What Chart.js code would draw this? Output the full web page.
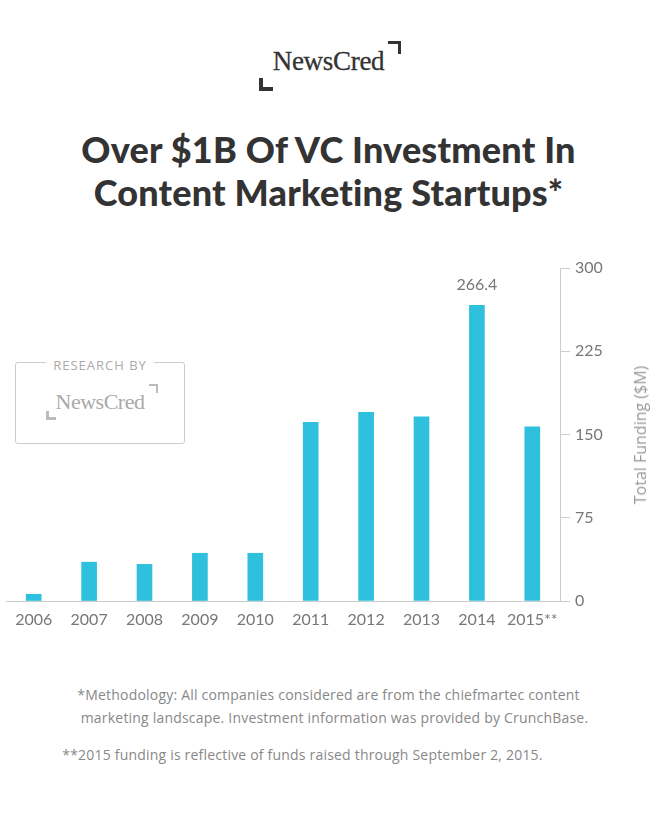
<!DOCTYPE html>
<html>
<head>
<meta charset="utf-8">
<script src="https://cdn.jsdelivr.net/npm/chart.js@4.4.1/dist/chart.umd.min.js"></script>
<style>
  html, body { margin: 0; padding: 0; background: #fff; }
  body { width: 657px; height: 826px; position: relative; overflow: hidden; font-family: Lato, "Open Sans", sans-serif; }
  .logo { position: absolute; font-family: "Liberation Serif", "DejaVu Serif", serif; color: #333; }
  .corner { position: absolute; border-color: #333; border-style: solid; border-width: 0; }
  #top-logo { left: 0; width: 657px; top: 46px; text-align: center; font-size: 27px; letter-spacing: -0.3px; -webkit-text-stroke: 0.3px #333; }
  h1 { position: absolute; left: 0; width: 657px; top: 128px; margin: 0; text-align: center;
       font-family: Lato, sans-serif; font-weight: 900; font-size: 36px; line-height: 43px; color: #333; letter-spacing: 0.2px; }
  #badge { position: absolute; left: 15px; top: 362px; width: 168px; height: 80px; border: 1px solid #ccc; border-radius: 3px; }
  #badge .cap { position: absolute; left: 0; width: 168px; top: -9px; text-align: center; }
  #badge .cap span { background: #fff; padding: 0 7px; font-size: 13px; letter-spacing: 1px; color: #aaa; font-family: "Open Sans", sans-serif; }
  #chart-wrap { position: absolute; left: 0; top: 240px; width: 657px; height: 400px; }
  #ytitle { position: absolute; left: 640px; top: 435px; transform: translate(-50%, -50%) rotate(-90deg);
            white-space: nowrap; font-size: 16px; color: #999; font-family: "Open Sans", sans-serif; }
  .note { position: absolute; left: 0; width: 657px; text-align: center; font-size: 14px; letter-spacing: 0.2px; color: #888; font-family: "Open Sans", sans-serif; box-sizing: border-box; }
</style>
</head>
<body>
<div class="logo" id="top-logo">NewsCred</div>
<div class="corner" style="left:388px;top:41px;width:10px;height:10px;border-top-width:3px;border-right-width:3px;"></div>
<div class="corner" style="left:259px;top:78px;width:10px;height:9px;border-left-width:4px;border-bottom-width:4px;"></div>

<h1>Over $1B Of VC Investment In<br>Content Marketing Startups*</h1>

<div id="badge">
  <div class="cap"><span>RESEARCH BY</span></div>
  <div class="logo" style="left:0;width:168px;top:26px;text-align:center;font-size:22px;color:#aaa;letter-spacing:-0.5px;">NewsCred</div>
  <div class="corner" style="border-color:#bbb;left:133px;top:21px;width:7px;height:7px;border-top-width:2px;border-right-width:2px;"></div>
  <div class="corner" style="border-color:#bbb;left:30px;top:48px;width:7px;height:6px;border-left-width:3px;border-bottom-width:3px;"></div>
</div>

<div id="chart-wrap"><canvas id="chart"></canvas></div>
<div id="ytitle">Total Funding ($M)</div>

<div class="note" style="top:685px;">*Methodology: All companies considered are from the chiefmartec content</div>
<div class="note" style="top:708px;padding-left:12px;">marketing landscape. Investment information was provided by CrunchBase.</div>
<div class="note" style="top:745px;padding-right:52px;">**2015 funding is reflective of funds raised through September 2, 2015.</div>

<script>
const years = ['2006', '2007', '2008', '2009', '2010', '2011', '2012', '2013', '2014', '2015**'];
const funding = [6, 35, 33, 43, 43, 161, 170, 166, 266.4, 157];
const labelled = ['2014'];
const yTicks = [0, 75, 150, 225, 300];

const valueLabel = {
  id: 'valueLabel',
  afterDatasetsDraw(chart) {
    const ctx = chart.ctx;
    const meta = chart.getDatasetMeta(0);
    ctx.save();
    ctx.font = '16px Lato, "Open Sans", sans-serif';
    ctx.fillStyle = '#777';
    ctx.textAlign = 'center';
    ctx.textBaseline = 'bottom';
    meta.data.forEach((bar, i) => {
      if (labelled.includes(years[i])) {
        ctx.fillText(String(funding[i]), bar.x, bar.y - 12);
      }
    });
    ctx.restore();
  }
};

new Chart(document.getElementById('chart'), {
  type: 'bar',
  data: {
    labels: years,
    datasets: [{
      data: funding,
      backgroundColor: '#2ec0dc',
      barThickness: 15
    }]
  },
  options: {
    responsive: true,
    maintainAspectRatio: false,
    animation: false,
    layout: { padding: { left: 6, top: 28, right: 0, bottom: 0 } },
    plugins: { legend: { display: false }, tooltip: { enabled: false } },
    scales: {
      x: {
        grid: { display: false, drawTicks: false },
        border: { display: true, color: '#ccc', width: 1 },
        ticks: {
          color: '#777',
          padding: 9,
          maxRotation: 0,
          autoSkip: false,
          font: { family: 'Lato, "Open Sans", sans-serif', size: 16 }
        },
        afterFit(scale) { scale.height = 39; }
      },
      y: {
        position: 'right',
        min: 0,
        max: 300,
        afterBuildTicks(scale) { scale.ticks = yTicks.map((v) => ({ value: v })); },
        grid: { drawOnChartArea: false, drawTicks: true, tickLength: 10, color: '#ccc' },
        border: { display: true, color: '#ccc', width: 1 },
        ticks: {
          color: '#777',
          padding: 5,
          font: { family: 'Lato, "Open Sans", sans-serif', size: 16 }
        },
        afterFit(scale) { scale.width = 97; }
      }
    }
  },
  plugins: [valueLabel]
});
</script>
</body>
</html>
